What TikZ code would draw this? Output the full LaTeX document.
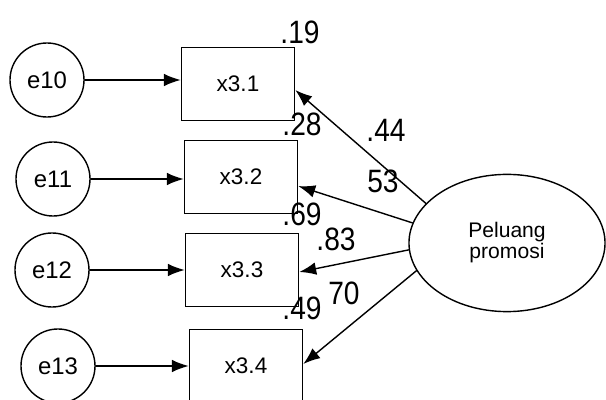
\documentclass[tikz,border=0pt]{standalone}
\usepackage{fontspec}
\setmainfont{Liberation Sans}
\usetikzlibrary{arrows.meta, calc, shapes.geometric}

\begin{document}
\begin{tikzpicture}[x=0.025cm, y=-0.025cm, line cap=round,
	errnode/.style={circle, draw, line width=1pt, minimum size=1.85cm, inner sep=0pt, font=\fontsize{17}{17}\selectfont},
	obsbox/.style={rectangle, draw, line width=1pt, minimum width=2.83cm, minimum height=1.82cm, inner sep=0pt, font=\fontsize{16}{16}\selectfont},
	latent/.style={ellipse, draw, line width=1pt, minimum width=4.9cm, minimum height=3.43cm, inner sep=0pt, align=center, font=\fontsize{15}{13.5}\selectfont},
	loadarrow/.style={line width=1pt, -{Latex[length=12pt, width=9pt]}},
	coef/.style={inner sep=0pt, font=\fontsize{20}{20}\selectfont}]

	\useasboundingbox (0,0) rectangle (606,400);
	\clip (0,0) rectangle (606,400);

	% error terms
	\node[errnode] (e10) at (47,80) {e10};
	\node[errnode] (e11) at (53,179) {e11};
	\node[errnode] (e12) at (52,270) {e12};
	\node[errnode] (e13) at (58,366) {e13};

	% indicators
	\node[obsbox] (b1) at (238,84) {x3.1};
	\node[obsbox] (b2) at (241,177) {x3.2};
	\node[obsbox] (b3) at (242,270) {x3.3};
	\node[obsbox] (b4) at (246,366) {x3.4};

	% latent variable
	\node[latent] (P) at (507,243) {Peluang\\promosi};

	\draw[loadarrow] (e10.east) -- (e10.east -| b1.west);
	\draw[loadarrow] (e11.east) -- (e11.east -| b2.west);
	\draw[loadarrow] (e12.east) -- (e12.east -| b3.west);
	\draw[loadarrow] (e13.east) -- (e13.east -| b4.west);

	\draw[loadarrow] (P.154) -- (b1.-6);
	\draw[loadarrow] (P.168) -- (b2.-9);
	\draw[loadarrow] (P.184) -- (b3.-2);
	\draw[loadarrow] (P.197) -- (b4.2);

	% estimates
	\node[coef] (r1) at (300,32) {\scalebox{1}[1.15]{.19}};
	\node[coef] (r2) at (302,124) {\scalebox{1}[1.15]{.28}};
	\node[coef] (l1) at (386,130) {\scalebox{1}[1.15]{.44}};
	\node[coef] (l2) at (383,181) {\scalebox{1}[1.15]{53}};
	\node[coef] (r3) at (302,214) {\scalebox{1}[1.15]{.69}};
	\node[coef] (l3) at (336,239) {\scalebox{1}[1.15]{.83}};
	\node[coef] (r4) at (302,308) {\scalebox{1}[1.15]{.49}};
	\node[coef] (l4) at (344,293) {\scalebox{1}[1.15]{70}};

\end{tikzpicture}
\end{document}
